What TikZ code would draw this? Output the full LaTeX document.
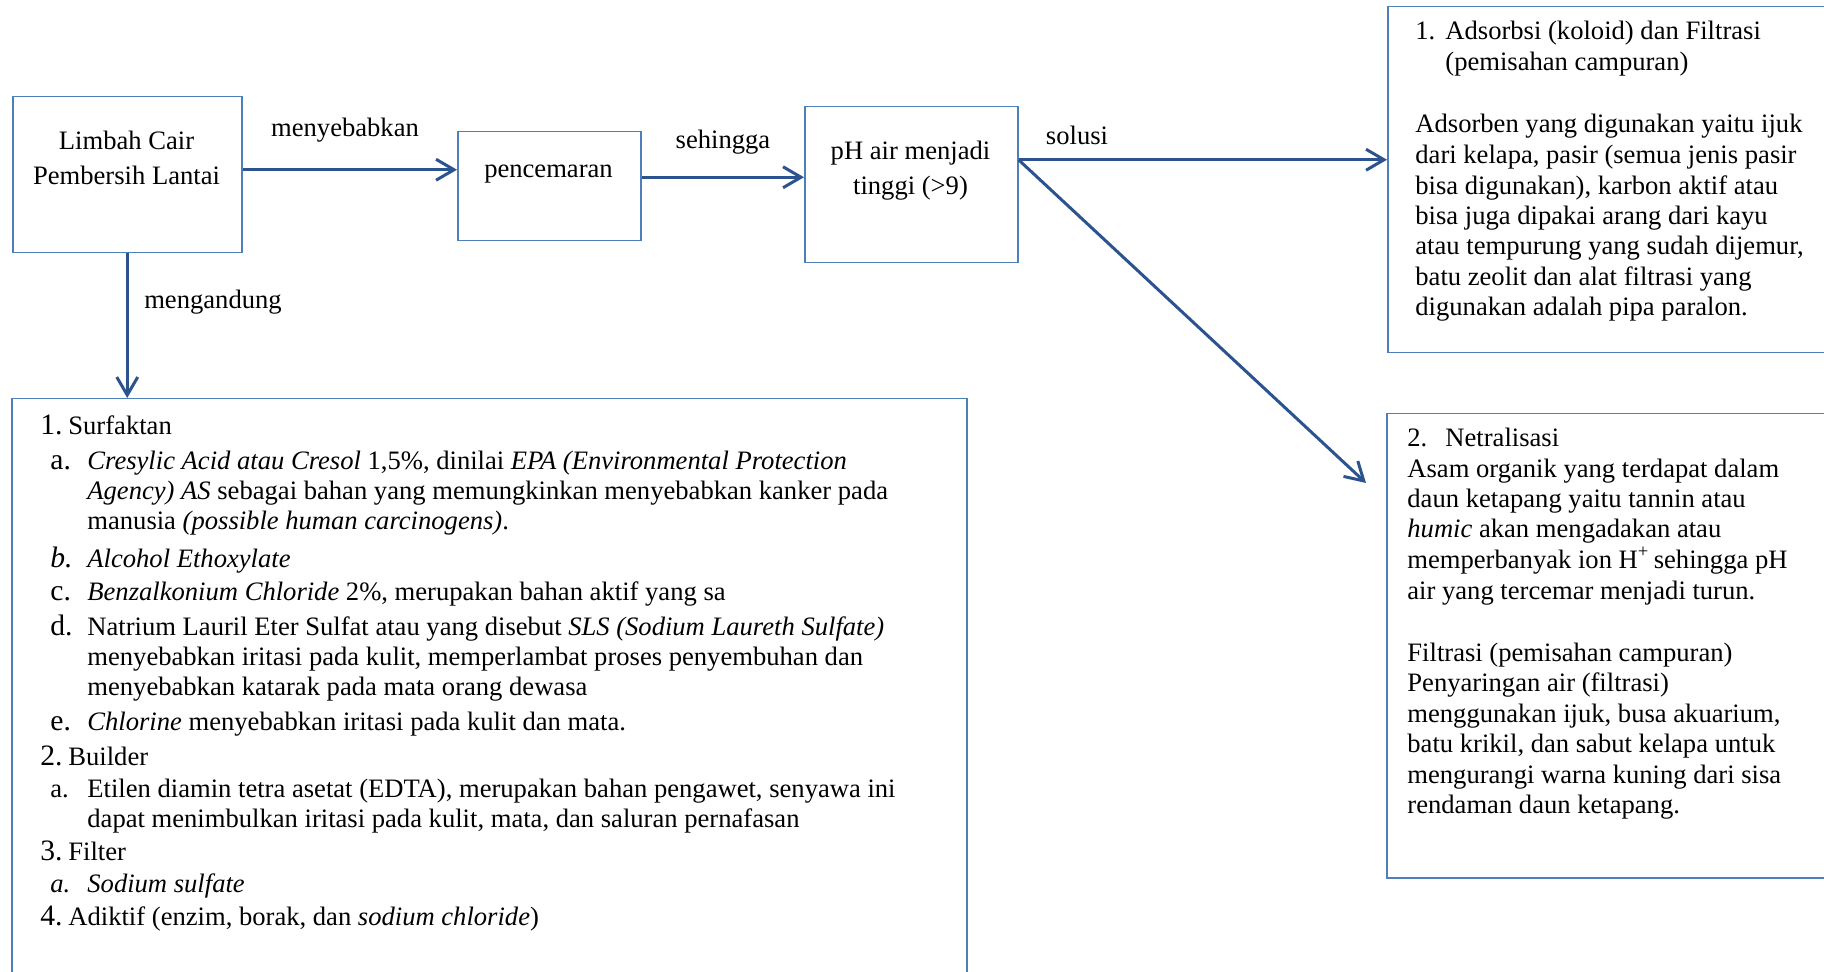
\documentclass[tikz,border=0pt]{standalone}
\usepackage{fontspec}
\setmainfont{Liberation Serif}
\usetikzlibrary{arrows.meta,calc}
\definecolor{boxc}{HTML}{4F7FBB}
\definecolor{arrc}{HTML}{2B5390}
\newcommand{\tf}{\fontsize{13.3pt}{15pt}\selectfont}
\newcommand{\bigno}{\fontsize{14.8pt}{15pt}\selectfont}
\begin{document}
\begin{tikzpicture}[x=0.5pt,y=-0.5pt,
  boxs/.style={draw=boxc,line width=0.75pt,inner sep=0pt,anchor=north west},
  arr/.style={draw=arrc,line width=1.5pt,-{Straight Barb[length=9pt,width=10.5pt]}},
  txt/.style={anchor=base west,inner sep=0pt,font=\tf},
  ctxt/.style={anchor=base,inner sep=0pt,font=\tf},
  num/.style={anchor=base west,inner sep=0pt,font=\bigno}]
\path[use as bounding box] (0,0) rectangle (1824,972);
\clip (0,0) rectangle (1824,972);
% boxes
\node[boxs,minimum width=114.5pt,minimum height=78pt] (limbah) at (12,96) {};
\node[boxs,minimum width=91.5pt,minimum height=54.5pt] (cemar) at (457,131) {};
\node[boxs,minimum width=106.5pt,minimum height=78pt] (ph) at (804,106) {};
\node[boxs,minimum width=477.5pt,minimum height=300pt] (kandung) at (11,398) {};
\node[boxs,minimum width=240pt,minimum height=173pt] (adsorb) at (1387,6) {};
\node[boxs,minimum width=240pt,minimum height=232pt] (netral) at (1386,413) {};
% box texts
\node[ctxt] (l1) at (126.5,150) {Limbah Cair};
\node[ctxt] (l2) at (126.5,185) {Pembersih Lantai};
\node[ctxt] (c1) at (548.5,178) {pencemaran};
\node[ctxt] (p1) at (910.5,160) {pH air menjadi};
\node[ctxt] (p2) at (910.5,195) {tinggi (>9)};
% connectors
\coordinate (diagend) at (1366,483);
\draw[arr] ([yshift=2.5pt]limbah.east) -- ([yshift=2.5pt]limbah.east -| cemar.west);
\draw[arr] ([yshift=4.5pt]cemar.east) -- ([yshift=4.5pt]cemar.east -| ph.west);
\draw[arr] ([yshift=12.5pt]ph.east) -- ([yshift=12.5pt]ph.east -| adsorb.west);
\draw[arr] ([yshift=12.5pt]ph.east) -- (diagend);
\draw[arr] (limbah.south) -- (limbah.south |- kandung.north);
% connector labels
\node[ctxt] (lab1) at (345,137) {menyebabkan};
\node[ctxt] (lab2) at (723,149) {sehingga};
\node[ctxt] (lab3) at (1077,145) {solusi};
\node[ctxt] (lab4) at (213,309) {mengandung};
% big box contents
\node[num] (n1) at (40,435) {1.};
\node[txt] (k1) at (68,435) {Surfaktan};
\node[num] (na) at (50,470) {a.};
\node[txt] (k2) at (87,470) {\textit{Cresylic Acid atau Cresol} 1,5\%, dinilai \textit{EPA (Environmental Protection}};
\node[txt] (k3) at (87,500) {\textit{Agency) AS} sebagai bahan yang memungkinkan menyebabkan kanker pada};
\node[txt] (k4) at (87,530) {manusia \textit{(possible human carcinogens)}.};
\node[num] (nb) at (50,567) {\textit{b.}};
\node[txt] (k5) at (87,567) {\textit{Alcohol Ethoxylate}};
\node[num] (nc) at (50,600) {c.};
\node[txt] (k6) at (87,600) {\textit{Benzalkonium Chloride} 2\%, merupakan bahan aktif yang sa};
\node[num] (nd) at (50,635) {d.};
\node[txt] (k7) at (87,635) {Natrium Lauril Eter Sulfat atau yang disebut \textit{SLS (Sodium Laureth Sulfate)}};
\node[txt] (k8) at (87,665) {menyebabkan iritasi pada kulit, memperlambat proses penyembuhan dan};
\node[txt] (k9) at (87,695) {menyebabkan katarak pada mata orang dewasa};
\node[num] (ne) at (50,730) {e.};
\node[txt] (k10) at (87,730) {\textit{Chlorine} menyebabkan iritasi pada kulit dan mata.};
\node[num] (n2) at (40,765) {2.};
\node[txt] (k11) at (68,765) {Builder};
\node[txt] (na2) at (50,797) {a.};
\node[txt] (k12) at (87,797) {Etilen diamin tetra asetat (EDTA), merupakan bahan pengawet, senyawa ini};
\node[txt] (k13) at (87,827) {dapat menimbulkan iritasi pada kulit, mata, dan saluran pernafasan};
\node[num] (n3) at (40,860) {3.};
\node[txt] (k14) at (68,860) {Filter};
\node[txt] (na3) at (50,892) {\textit{a.}};
\node[txt] (k15) at (87,892) {\textit{Sodium sulfate}};
\node[num] (n4) at (40,925) {4.};
\node[txt] (k16) at (68,925) {Adiktif (enzim, borak, dan \textit{sodium chloride})};
% adsorbsi box
\node[txt] (a0) at (1415,40) {1.};
\node[txt] (a1) at (1445,40) {Adsorbsi (koloid) dan Filtrasi};
\node[txt] (a2) at (1445,71) {(pemisahan campuran)};
\node[txt] (a3) at (1415,133) {Adsorben yang digunakan yaitu ijuk};
\node[txt] (a4) at (1415,164) {dari kelapa, pasir (semua jenis pasir};
\node[txt] (a5) at (1415,195) {bisa digunakan), karbon aktif atau};
\node[txt] (a6) at (1415,225) {bisa juga dipakai arang dari kayu};
\node[txt] (a7) at (1415,255) {atau tempurung yang sudah dijemur,};
\node[txt] (a8) at (1415,286) {batu zeolit dan alat filtrasi yang};
\node[txt] (a9) at (1415,316) {digunakan adalah pipa paralon.};
% netralisasi box
\node[txt] (b0) at (1407,447) {2.};
\node[txt] (b1) at (1445,447) {Netralisasi};
\node[txt] (b2) at (1407,478) {Asam organik yang terdapat dalam};
\node[txt] (b3) at (1407,508) {daun ketapang yaitu tannin atau};
\node[txt] (b4) at (1407,538) {\textit{humic} akan mengadakan atau};
\node[txt] (b5) at (1407,568) {memperbanyak ion H\textsuperscript{+}\,sehingga pH};
\node[txt] (b6) at (1407,599) {air yang tercemar menjadi turun.};
\node[txt] (b7) at (1407,661) {Filtrasi (pemisahan campuran)};
\node[txt] (b8) at (1407,691) {Penyaringan air (filtrasi)};
\node[txt] (b9) at (1407,722) {menggunakan ijuk, busa akuarium,};
\node[txt] (b10) at (1407,752) {batu krikil, dan sabut kelapa untuk};
\node[txt] (b11) at (1407,783) {mengurangi warna kuning dari sisa};
\node[txt] (b12) at (1407,813) {rendaman daun ketapang.};
\end{tikzpicture}
\end{document}
